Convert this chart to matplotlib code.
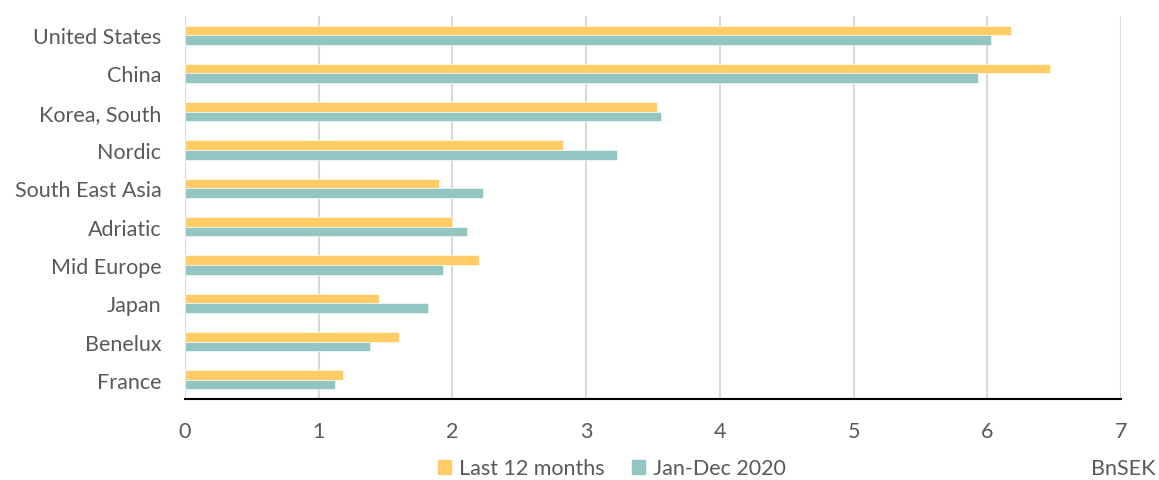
import numpy as np
import matplotlib
matplotlib.use("Agg")
import matplotlib.pyplot as plt
from matplotlib.patches import Patch

categories = ["United States", "China", "Korea, South", "Nordic", "South East Asia",
              "Adriatic", "Mid Europe", "Japan", "Benelux", "France"]
last_12_months = [6.18, 6.47, 3.53, 2.83, 1.90, 2.00, 2.20, 1.45, 1.60, 1.18]
jan_dec_2020 = [6.03, 5.93, 3.56, 3.23, 2.23, 2.11, 1.93, 1.82, 1.38, 1.12]
x_ticks = [0, 1, 2, 3, 4, 5, 6, 7]

yellow = "#FFCC66"
teal = "#93C6C3"
text_color = "#595959"

plt.rcParams["font.family"] = ["Lato", "DejaVu Sans"]

fig = plt.figure(figsize=(11.59, 4.81), dpi=100)
ax = fig.add_axes([0.1596, 0.1684, 0.8076, 0.7963])

pos = np.arange(len(categories))
h = 0.25
ax.barh(pos - h / 2, last_12_months, height=h, color=yellow, edgecolor="white", linewidth=0.4, zorder=3)
ax.barh(pos + h / 2, jan_dec_2020, height=h, color=teal, edgecolor="white", linewidth=0.4, zorder=3)

ax.set_ylim(len(categories) - 0.5, -0.5)
ax.set_xlim(0, 7)
ax.set_yticks(pos)
ax.set_yticklabels(categories)
ax.set_xticks(x_ticks)

ax.grid(axis="x", color="#D9D9D9", linewidth=1.5, zorder=0)
for s in ["left", "right", "top"]:
    ax.spines[s].set_visible(False)
ax.spines["bottom"].set_color("black")
ax.spines["bottom"].set_linewidth(1.5)
ax.spines["bottom"].set_zorder(4)

ax.tick_params(axis="both", length=0, labelsize=15.5, colors=text_color)
ax.tick_params(axis="y", pad=17)
ax.tick_params(axis="x", pad=16)

handles = [Patch(color=yellow, label="Last 12 months"), Patch(color=teal, label="Jan-Dec 2020")]
fig.legend(handles=handles, loc="center", bbox_to_anchor=(0.528, 0.024), ncol=2, frameon=False,
           fontsize=15.5, labelcolor=text_color, handlelength=0.6, handleheight=0.6,
           handletextpad=0.35, columnspacing=1.3, borderpad=0.1)

fig.text(0.997, 0.024, "BnSEK", ha="right", va="center", fontsize=15.5, color=text_color)

fig.savefig("out.png", dpi=100)
